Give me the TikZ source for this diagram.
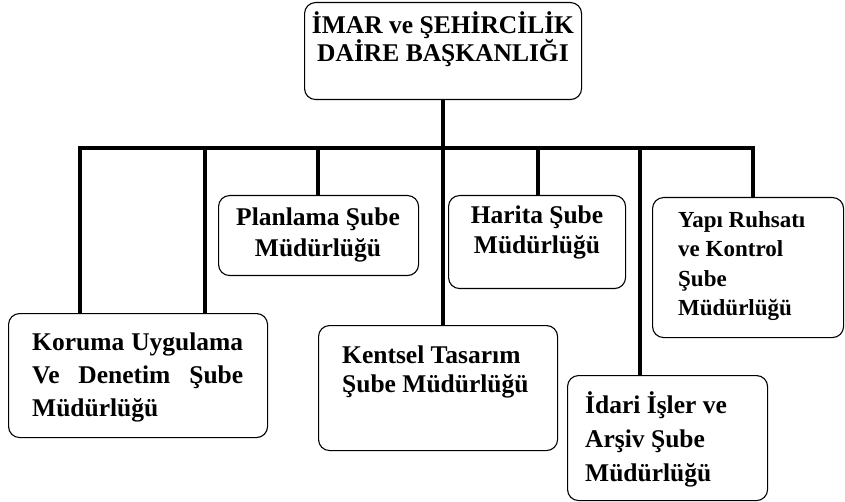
\documentclass[tikz,border=0pt]{standalone}
\usepackage{fontspec}
\setmainfont{Liberation Serif}
\begin{document}
\begin{tikzpicture}[x=1pt,y=-1pt,
  box/.style={draw, rounded corners=11pt, line width=1.1pt, inner sep=0pt, anchor=north west},
  conn/.style={line width=4.2pt},
  txt/.style={inner sep=0pt}]
\useasboundingbox (0,0) rectangle (845,502);
% boxes
\node[box, minimum width=277pt, minimum height=97pt] (top) at (304,2) {};
\node[box, minimum width=200pt, minimum height=80pt] (plan) at (218,195) {};
\node[box, minimum width=177pt, minimum height=93pt] (har) at (448,195) {};
\node[box, minimum width=191pt, minimum height=140pt] (yapi) at (652,197) {};
\node[box, minimum width=259pt, minimum height=124pt] (kor) at (8,313) {};
\node[box, minimum width=239pt, minimum height=125pt] (kent) at (318,325) {};
\node[box, minimum width=200pt, minimum height=125pt] (idari) at (567,375) {};
% texts
\node[txt, anchor=north, align=center, font=\bfseries\fontsize{25.5}{27}\selectfont] (ttop) at (443,11) {İMAR ve ŞEHİRCİLİK\\DAİRE BAŞKANLIĞI};
\node[txt, anchor=north, align=center, font=\bfseries\fontsize{25.5}{31}\selectfont] (tplan) at (318,208) {Planlama Şube\\Müdürlüğü};
\node[txt, anchor=north, align=center, font=\bfseries\fontsize{25.5}{30}\selectfont] (thar) at (537,206) {Harita Şube\\Müdürlüğü};
\node[txt, anchor=north west, align=left, font=\bfseries\fontsize{23}{29.5}\selectfont] (tyapi) at (678,211) {Yapı Ruhsatı\\ve Kontrol\\Şube\\Müdürlüğü};
\node[txt, anchor=north west, align=left, font=\bfseries\fontsize{25.5}{33}\selectfont] (tkor) at (32,333) {\makebox[211pt][s]{Koruma Uygulama}\\\makebox[211pt][s]{Ve Denetim Şube}\\Müdürlüğü};
\node[txt, anchor=north west, align=left, font=\bfseries\fontsize{25.5}{29}\selectfont] (tkent) at (342,346) {Kentsel Tasarım\\Şube Müdürlüğü};
\node[txt, anchor=north west, align=left, font=\bfseries\fontsize{25.5}{34}\selectfont] (tidari) at (585,391) {İdari İşler ve\\Arşiv Şube\\Müdürlüğü};
% connectors
\coordinate (bL) at (80,148);
\coordinate (b2) at (205,148);
\coordinate (b3) at (318,148);
\coordinate (b5) at (538,148);
\coordinate (b6) at (640,148);
\coordinate (bR) at (753,148);
\draw[conn, line join=miter] (bL |- kor.north) -- (bL) -- (bR) -- (bR |- yapi.north);
\draw[conn] (top.south) -- (top.south |- kent.north);
\draw[conn] (b2) -- (b2 |- kor.north);
\draw[conn] (b3) -- (b3 |- plan.north);
\draw[conn] (b5) -- (b5 |- har.north);
\draw[conn] (b6) -- (b6 |- idari.north);
\end{tikzpicture}
\end{document}
